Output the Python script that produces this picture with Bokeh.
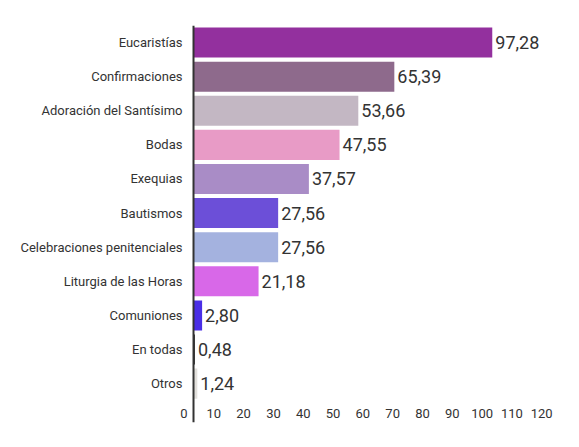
from bokeh.plotting import figure
from bokeh.models import Range1d, LinearAxis, FixedTicker, Span, ColumnDataSource
from bokeh.core.properties import value
from bokeh.embed import file_html
from bokeh.resources import INLINE

categories = ["Eucaristías", "Confirmaciones", "Adoración del Santísimo", "Bodas", "Exequias",
              "Bautismos", "Celebraciones penitenciales", "Liturgia de las Horas", "Comuniones",
              "En todas", "Otros"]
values = [97.28, 65.39, 53.66, 47.55, 37.57, 27.56, 27.56, 21.18, 2.80, 0.48, 1.24]
colors = ["#93309E", "#8E6A8C", "#C3B7C3", "#E89BC6", "#A98CC6", "#6C4FD8", "#A4B2DF",
          "#D868E8", "#4A2EE6", "#3A3A3A", "#E2E0DC"]
x_ticks = [0, 10, 20, 30, 40, 50, 60, 70, 80, 90, 100, 110, 120]

n = len(categories)
pos = [n - 1 - i for i in range(n)]
labels = [f"{v:.2f}".replace(".", ",") for v in values]

src = ColumnDataSource(dict(y=pos, v=values, c=colors, lab=labels))

p = figure(frame_width=377, frame_height=397, output_backend="svg", toolbar_location=None,
           x_range=Range1d(-3.26, 119.5), y_range=Range1d(-1.14, 10.5),
           x_axis_location=None, y_axis_location=None,
           min_border_left=183, min_border_right=8, min_border_top=25, min_border_bottom=12)
p.outline_line_color = None
p.grid.visible = False
p.background_fill_color = "white"
p.border_fill_color = "white"

p.hbar(y="y", right="v", left=0, height=0.88, fill_color="c", line_color=None, source=src)
p.text(x="v", y="y", text="lab", x_offset=3, text_baseline="middle", text_align="left",
       text_font=value("Roboto"), text_font_size="18px", text_color="#333333", source=src)

p.add_layout(Span(location=0, dimension="height", line_color="#333333", line_width=2))

yax = LinearAxis(ticker=FixedTicker(ticks=pos),
                 major_label_overrides={pv: c for pv, c in zip(pos, categories)})
yax.axis_line_color = None
yax.major_tick_line_color = None
yax.minor_tick_line_color = None
yax.major_label_standoff = -5
yax.major_label_text_font = "Roboto"
yax.major_label_text_font_size = "13px"
yax.major_label_text_color = "#333333"
p.add_layout(yax, "left")

p.extra_x_ranges = {"ticks": Range1d(-0.17, 126.3)}
xax = LinearAxis(x_range_name="ticks", ticker=FixedTicker(ticks=x_ticks))
xax.axis_line_color = None
xax.major_tick_line_color = None
xax.minor_tick_line_color = None
xax.major_label_standoff = -20
xax.major_label_text_font = "Roboto"
xax.major_label_text_font_size = "13px"
xax.major_label_text_color = "#333333"
p.add_layout(xax, "below")

open("out.html", "w").write(file_html(p, INLINE))
